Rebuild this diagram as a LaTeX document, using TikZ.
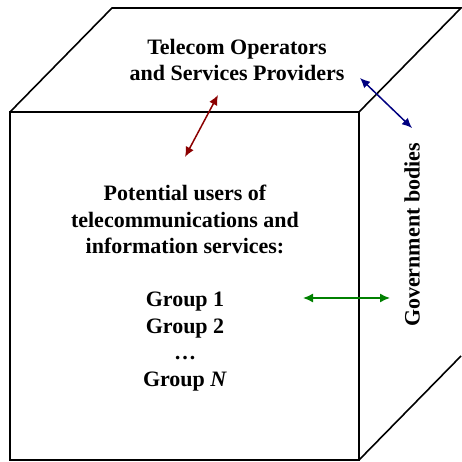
\documentclass[tikz,border=0pt]{standalone}
\usepackage{fontspec}
\setmainfont{Liberation Serif}
\usetikzlibrary{arrows.meta}
\begin{document}
\begin{tikzpicture}[x=1pt, y=1pt,
    edge/.style  = {line width=1.6pt, line join=miter},
    link/.style  = {{Latex[length=10pt,width=9pt]}-{Latex[length=10pt,width=9pt]}, line width=1.5pt},
    label/.style = {align=center, font=\bfseries\fontsize{22}{26.5}\selectfont}]
    \useasboundingbox (0,0) rectangle (461,462);
    % cube
    \draw [edge] (10,2) rectangle (359,350);
    \draw [edge] (10,350) -- (112,454) -- (461,454) -- (359,350);
    \draw [edge] (359,2) -- (461,106);
    % faces
    \node[label] (top)   at (237,402) {Telecom Operators\\and Services Providers};
    \node[label] (front) at (185,174) {Potential users of\\telecommunications and\\information services:\\[26.5pt]Group 1\\Group 2\\\dots\\Group \textit{N}};
    \node[label, rotate=90] (side) at (412,227) {Government bodies};
    % links
    \coordinate (r1) at (185,305);  \coordinate (r2) at (218,367);
    \coordinate (b1) at (360,384);  \coordinate (b2) at (412,334);
    \coordinate (g1) at (303,164);  \coordinate (g2) at (390,164);
    \draw [link, color={rgb,255:red,139;green,0;blue,0}] (r1) -- (r2);
    \draw [link, color={rgb,255:red,0;green,0;blue,128}] (b1) -- (b2);
    \draw [link, color={rgb,255:red,0;green,128;blue,0}] (g1) -- (g2);
\end{tikzpicture}
\end{document}
